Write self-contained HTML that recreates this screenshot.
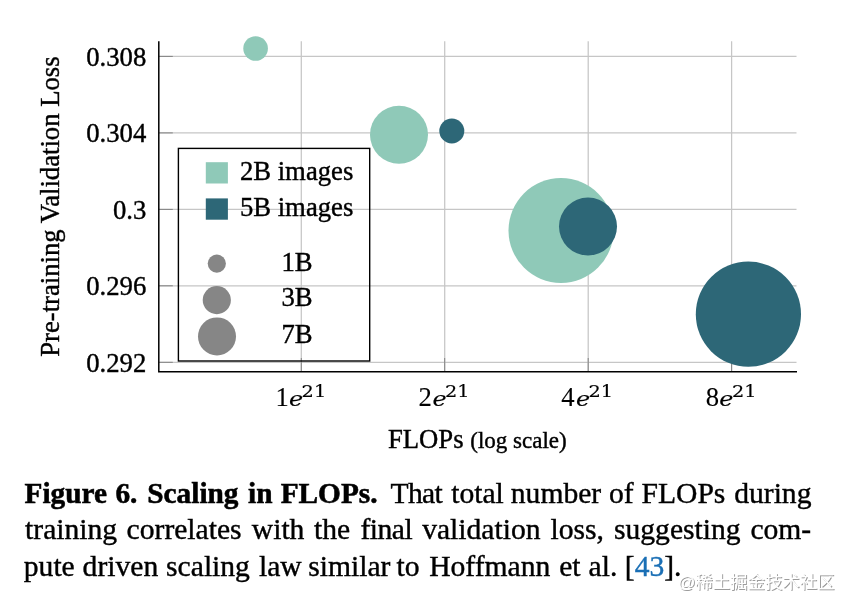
<!DOCTYPE html>
<html><head><meta charset="utf-8"><title>Figure 6. Scaling in FLOPs.</title>
<style>
html,body{margin:0;padding:0;background:#fff;}
body{width:842px;height:598px;overflow:hidden;}
svg{display:block;}
text{font-family:"Liberation Serif",serif;fill:#000;stroke:#000;stroke-width:0.4px;}
.t{font-size:26.7px;}
.cap{font-size:29.6px;}
.b{font-weight:bold;stroke-width:0.55px;font-size:29.3px;}
.m{font-size:27px;}
.i{font-style:italic;}
.sup{font-family:"DejaVu Serif",serif;font-size:17.1px;stroke-width:0.15px;}
.xd{stroke-width:0.12px;}
.me{font-family:"DejaVu Serif",serif;font-size:19.5px;font-style:italic;stroke-width:0.15px;}
.wm{font-family:"Liberation Sans","Noto Sans CJK SC",sans-serif;font-size:17.4px;fill:#fff;stroke:none;}
</style></head>
<body>
<svg width="842" height="598" viewBox="0 0 842 598">
<rect width="842" height="598" fill="#fff"/>
<!-- grid -->
<g stroke="#c6c6c6" stroke-width="1.25" fill="none">
<path d="M159 56.4H796.5M159 132.9H796.5M159 209.4H796.5M159 285.8H796.5M159 362.3H796.5"/>
<path d="M301.3 41.3V371.5M444.7 41.3V371.5M588.2 41.3V371.5M731.6 41.3V371.5"/>
</g>
<!-- ticks -->
<g stroke="#7a7a7a" stroke-width="0.9" fill="none">
<path d="M159 56.4H172.8M159 132.9H172.8M159 209.4H172.8M159 285.8H172.8M159 362.3H172.8"/>
<path d="M301.3 358V371.5M444.7 358V371.5M588.2 358V371.5M731.6 358V371.5"/>
</g>
<!-- data -->
<g>
<circle cx="255.6" cy="48.5" r="12.3" fill="#8fc9b8"/>
<circle cx="399" cy="134.7" r="29" fill="#8fc9b8"/>
<circle cx="561" cy="230.5" r="52.5" fill="#8fc9b8"/>
<circle cx="451.8" cy="131" r="12.5" fill="#2d6777"/>
<circle cx="588" cy="226.5" r="29" fill="#2d6777"/>
<circle cx="748.4" cy="314.2" r="52.6" fill="#2d6777"/>
</g>
<!-- axes -->
<path d="M158.8 41.3V371.7H797" stroke="#000" stroke-width="1.5" fill="none"/>
<!-- legend -->
<rect x="178.4" y="148.4" width="191.3" height="212.6" fill="none" stroke="#000" stroke-width="1.4"/>
<rect x="205.8" y="162.2" width="22.1" height="21.3" fill="#8fc9b8"/>
<rect x="205.8" y="198.4" width="22.1" height="21.3" fill="#2d6777"/>
<circle cx="216.8" cy="263.6" r="9.1" fill="#868686"/>
<circle cx="216.8" cy="300.1" r="14.1" fill="#868686"/>
<circle cx="217" cy="336.4" r="19" fill="#868686"/>
<text class="t" x="239.9" y="179.9">2B images</text>
<text class="t" x="239.9" y="216.2">5B images</text>
<text class="t" x="281.5" y="270.6">1B</text>
<text class="t" x="281.5" y="306.4">3B</text>
<text class="t" x="281.5" y="342.5">7B</text>
<!-- y tick labels -->
<g class="t" text-anchor="end">
<text class="t" x="146.3" y="65.7">0.308</text>
<text class="t" x="146.3" y="142.2">0.304</text>
<text class="t" x="146.3" y="218.7">0.3</text>
<text class="t" x="146.3" y="295.4">0.296</text>
<text class="t" x="146.3" y="372.1">0.292</text>
</g>
<!-- y label -->
<text class="t" transform="translate(58.5 356.8) rotate(-90)">Pre-training Validation Loss</text>
<!-- x tick labels -->
<g>
<text><tspan class="t xd" x="275.5" y="405.6">1</tspan><tspan class="me" x="289.0" y="405.6" textLength="14.2" lengthAdjust="spacingAndGlyphs">e</tspan><tspan class="sup" x="301.6" y="396.7" textLength="24.6" lengthAdjust="spacingAndGlyphs">21</tspan></text>
<text><tspan class="t xd" x="418.4" y="405.6">2</tspan><tspan class="me" x="432.4" y="405.6" textLength="14.2" lengthAdjust="spacingAndGlyphs">e</tspan><tspan class="sup" x="445.0" y="396.7" textLength="24.6" lengthAdjust="spacingAndGlyphs">21</tspan></text>
<text><tspan class="t xd" x="561.2" y="405.6">4</tspan><tspan class="me" x="575.9" y="405.6" textLength="14.2" lengthAdjust="spacingAndGlyphs">e</tspan><tspan class="sup" x="588.5" y="396.7" textLength="24.6" lengthAdjust="spacingAndGlyphs">21</tspan></text>
<text><tspan class="t xd" x="705.8" y="405.6">8</tspan><tspan class="me" x="719.3" y="405.6" textLength="14.2" lengthAdjust="spacingAndGlyphs">e</tspan><tspan class="sup" x="731.9" y="396.7" textLength="24.6" lengthAdjust="spacingAndGlyphs">21</tspan></text>
</g>
<!-- x label -->
<text class="t" x="387.9" y="447.6">FLOPs <tspan font-size="23">(log scale)</tspan></text>
<!-- caption -->
<text class="cap" y="502.8"><tspan x="24.5" class="b">Figure</tspan> <tspan x="115.4" class="b">6.</tspan> <tspan x="147.3" class="b">Scaling</tspan> <tspan x="248.0" class="b">in</tspan> <tspan x="280.7" class="b">FLOPs.</tspan> <tspan x="390.6" letter-spacing="-0.7">That</tspan> <tspan x="451.2">total</tspan> <tspan x="510.8">number</tspan> <tspan x="609.0">of</tspan> <tspan x="641.5">FLOPs</tspan> <tspan x="734.2">during</tspan></text>
<text class="cap" y="538.9"><tspan x="25.1">training</tspan> <tspan x="126.6">correlates</tspan> <tspan x="251.8">with</tspan> <tspan x="314.1">the</tspan> <tspan x="360.5" letter-spacing="-0.5">final</tspan> <tspan x="422.2">validation</tspan> <tspan x="550.5">loss,</tspan> <tspan x="614.0">suggesting</tspan> <tspan x="750.4">com-</tspan></text>
<text class="cap" y="575.5"><tspan x="23.8">pute</tspan> <tspan x="82.6">driven</tspan> <tspan x="166.1">scaling</tspan> <tspan x="259.0">law</tspan> <tspan x="308.2">similar</tspan> <tspan x="396.6">to</tspan> <tspan x="429.2">Hoffmann</tspan> <tspan x="559.2">et</tspan> <tspan x="588.6">al.</tspan> <tspan x="624.8">[<tspan fill="#1a6fb5" stroke="#1a6fb5">43</tspan>].</tspan></text>
<!-- watermark -->
<defs><filter id="wmsh" x="-5%" y="-30%" width="110%" height="160%">
<feOffset in="SourceAlpha" dx="0.9" dy="0.9" result="o"/>
<feFlood flood-color="#9c9c9c"/><feComposite in2="o" operator="in" result="s"/>
<feMerge><feMergeNode in="s"/><feMergeNode in="SourceGraphic"/></feMerge>
</filter></defs>
<text class="wm" x="677.7" y="587.8" filter="url(#wmsh)">@稀土掘金技术社区</text>
</svg>
</body></html>
